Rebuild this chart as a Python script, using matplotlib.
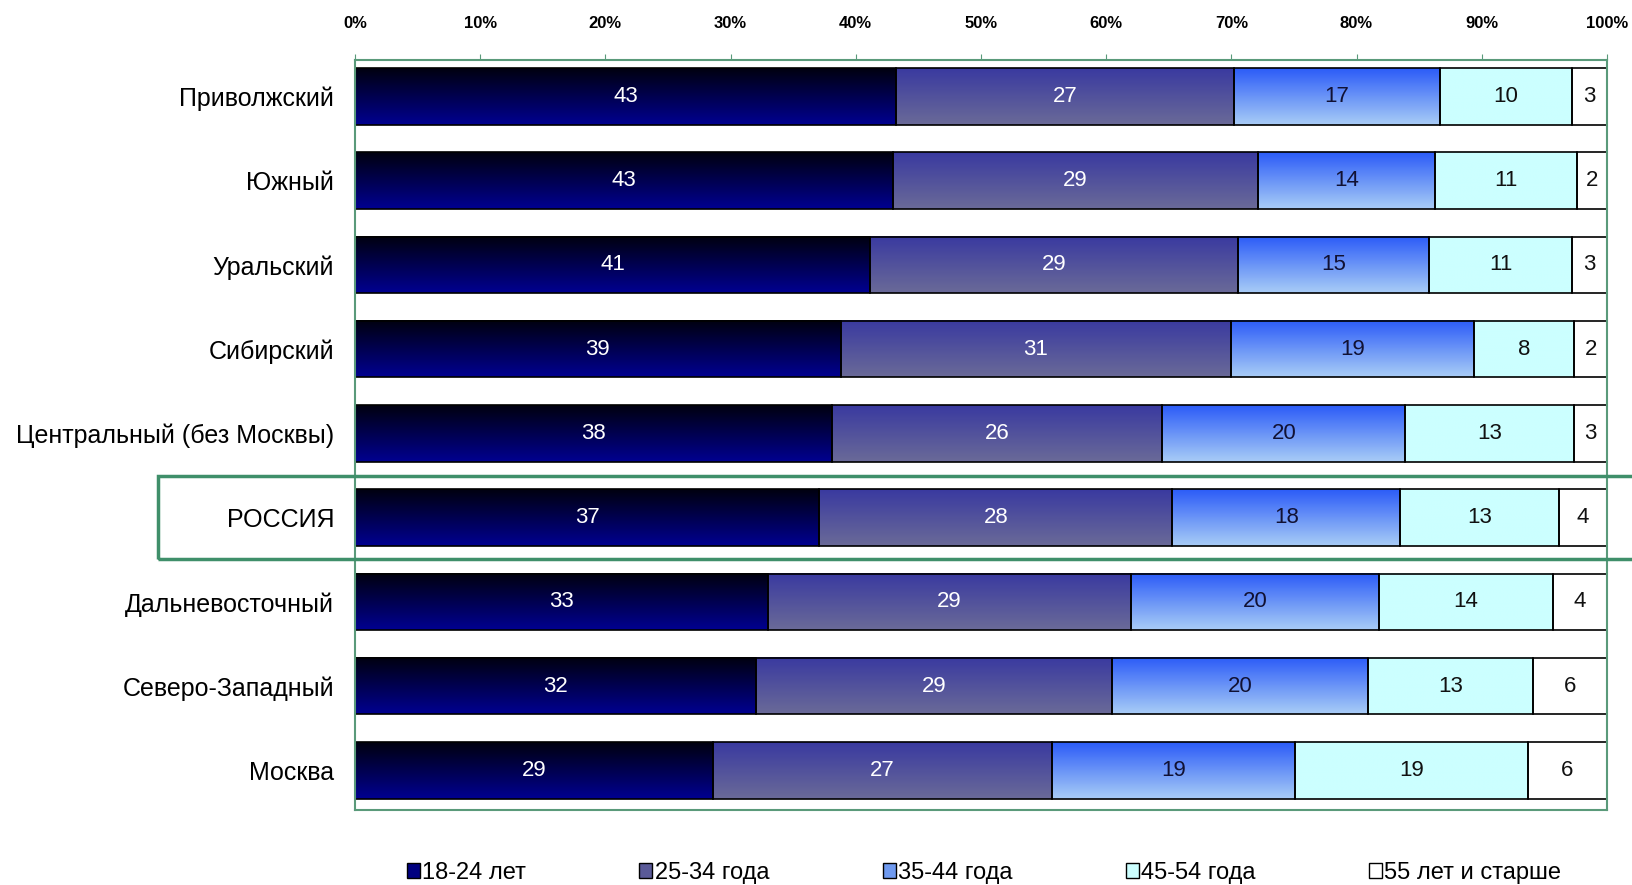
import numpy as np
import matplotlib
matplotlib.use("Agg")
import matplotlib.pyplot as plt
from matplotlib.patches import Rectangle, Patch
from matplotlib.colors import LinearSegmentedColormap

plt.rcParams['font.family'] = ['Liberation Sans', 'DejaVu Sans']

regions = ["Приволжский", "Южный", "Уральский", "Сибирский", "Центральный (без Москвы)",
           "РОССИЯ", "Дальневосточный", "Северо-Западный", "Москва"]
groups = ["18-24 лет", "25-34 года", "35-44 года", "45-54 года", "55 лет и старше"]

# printed labels
age_18_24 = [43, 43, 41, 39, 38, 37, 33, 32, 29]
age_25_34 = [27, 29, 29, 31, 26, 28, 29, 29, 27]
age_35_44 = [17, 14, 15, 19, 20, 18, 20, 20, 19]
age_45_54 = [10, 11, 11, 8, 13, 13, 14, 13, 19]
age_55 = [3, 2, 3, 2, 3, 4, 4, 6, 6]

# segment widths as drawn (unrounded shares, %)
share_18_24 = [43.2, 43.0, 41.15, 38.8, 38.1, 37.1, 33.0, 32.0, 28.6]
share_25_34 = [27.0, 29.1, 29.4, 31.2, 26.4, 28.2, 29.0, 28.5, 27.1]
share_35_44 = [16.5, 14.2, 15.25, 19.4, 19.4, 18.2, 19.8, 20.4, 19.4]
share_45_54 = [10.5, 11.3, 11.4, 8.0, 13.5, 12.7, 13.9, 13.2, 18.6]
share_55 = [2.8, 2.4, 2.8, 2.6, 2.6, 3.8, 4.3, 5.9, 6.3]

labels = [age_18_24, age_25_34, age_35_44, age_45_54, age_55]
shares = np.array([share_18_24, share_25_34, share_35_44, share_45_54, share_55])
pct = shares / shares.sum(axis=0) * 100

# top colour, bottom colour of each segment's vertical gradient
grads = [("#000010", "#000090"), ("#3a3aa0", "#6a6a98"), ("#2c5cf8", "#a8ccf6"),
         ("#ccffff", "#ccffff"), ("#ffffff", "#ffffff")]
legend_cols = ["#000080", "#5a5a98", "#6f9af0", "#ccffff", "#ffffff"]
text_cols = ["white", "white", "#111133", "#111111", "#111111"]

fig = plt.figure(figsize=(16.33, 8.85), dpi=100)
ax = fig.add_axes([0.2174, 0.0847, 0.7666, 0.8473])

y = np.arange(len(regions))
left = np.zeros(len(regions))
for k in range(len(labels)):
    bars = ax.barh(y, pct[k], left=left, height=0.67, facecolor="none",
                   edgecolor="black", linewidth=1.2, zorder=2)
    cmap = LinearSegmentedColormap.from_list("g%d" % k, [grads[k][0], grads[k][1]])
    grad = np.linspace(0, 1, 64).reshape(-1, 1)
    for b, v in zip(bars, labels[k]):
        x0, y0 = b.get_x(), b.get_y()
        w, h = b.get_width(), b.get_height()
        # inverted y axis: top of bar is y0
        ax.imshow(grad, cmap=cmap, aspect="auto", extent=[x0, x0 + w, y0 + h, y0],
                  zorder=1.5, interpolation="bilinear")
        ax.text(x0 + w / 2, y0 + h / 2, "%d" % v, ha="center", va="center",
                color=text_cols[k], fontsize=16, zorder=3)
    left += pct[k]

ax.set_xlim(0, 100)
ax.set_ylim(8.47, -0.43)
ax.set_yticks(y)
ax.set_yticklabels(regions, fontsize=18)
ax.tick_params(axis="y", length=0, pad=15)
ax.xaxis.tick_top()
ax.set_xticks(np.arange(0, 101, 10))
ax.set_xticklabels(["%d%%" % t for t in range(0, 101, 10)], fontsize=12, fontweight="bold")
ax.tick_params(axis="x", direction="out", length=4, color="#5a9a7a", pad=17)
for s in ax.spines.values():
    s.set_color("#5a9a7a")
    s.set_linewidth(1.5)

# highlight frame round the Russia row
fig.add_artist(Rectangle((0.0968, 1 - 559 / 885), 1.0, 83 / 885, fill=False,
                         edgecolor="#3f8f6a", linewidth=2.5, transform=fig.transFigure))

handles = [Patch(facecolor=c, edgecolor="black", linewidth=1) for c in legend_cols]
fig.legend(handles, groups, loc="center", bbox_to_anchor=(0.6026, 0.0136), ncol=5,
           frameon=False, fontsize=17, handlelength=0.55, handleheight=0.55,
           handletextpad=0.1, columnspacing=4.8, borderpad=0)

fig.savefig("out.png", dpi=100)
